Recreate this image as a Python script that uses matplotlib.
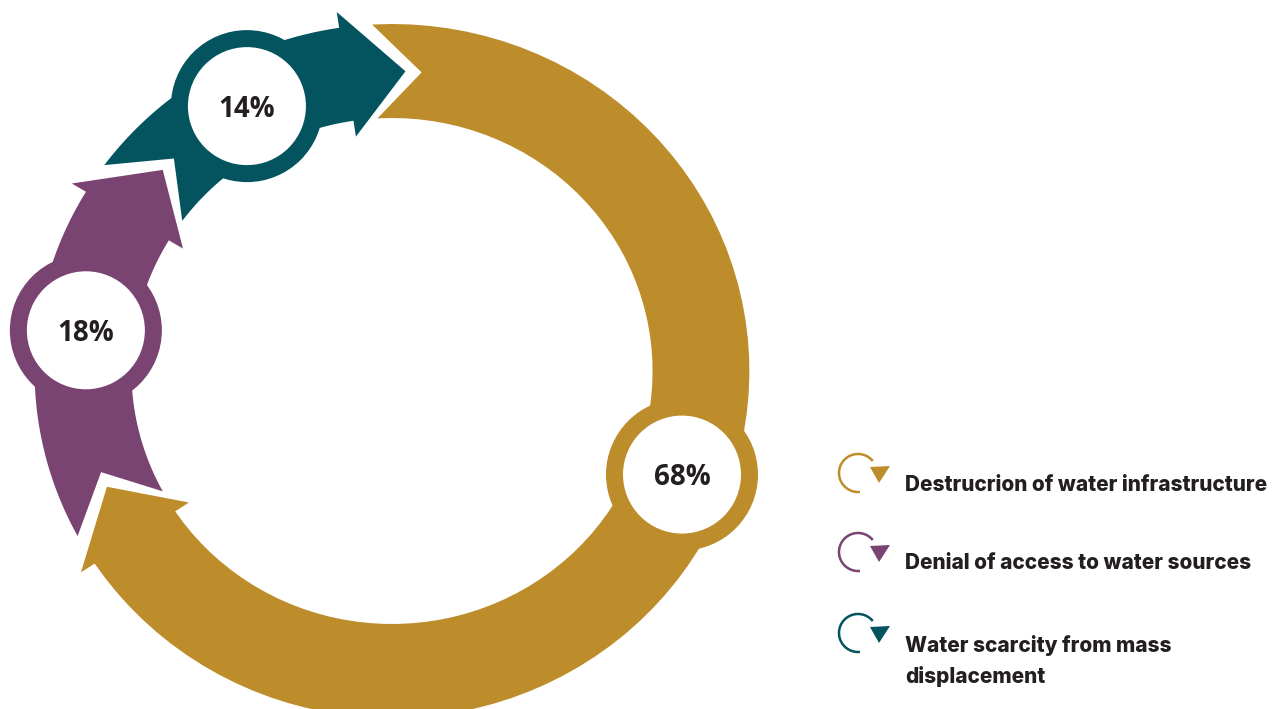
import numpy as np
import matplotlib.pyplot as plt
from matplotlib.patches import Polygon, Circle

# data
labels = ["Destrucrion of water infrastructure",
          "Denial of access to water sources",
          "Water scarcity from mass\ndisplacement"]
shares = [68, 18, 14]
colors = ["#BC8D2A", "#794471", "#03545F"]

# ring layout (pixel coords of the 1286x709 canvas)
W, H = 1286, 709
CX, CY = 392, 371
SX = 1.03           # ring is a little wider than tall
R_OUT, R_IN = 347, 253
R_MID = (R_OUT + R_IN) / 2
START = 86          # angle where the first segment starts (deg, math)
GAP = 1.5           # half gap between segments (deg)
NOTCH = 8.7         # depth of the tail notch (deg)
HEAD = 11           # arrow head length (deg)
BARB = 16           # barb overhang (px)
badge_angles = [-20.2, 172.2, 118]
BADGE_R, BADGE_WHITE = 76, 59


def pt(r, a):
    t = np.radians(a)
    return CX + SX * r * np.cos(t), CY - r * np.sin(t)


def arc(r, a0, a1, n=80):
    return [pt(r, a) for a in np.linspace(a0, a1, n)]


def arrowShape(a_start, a_end):
    """
    带缺口尾部和箭头的环形箭头 (顺时针)
    """
    tip = a_end + GAP
    apex = a_start - GAP
    tail = apex + NOTCH
    base = tip + HEAD
    pts = arc(R_OUT, tail, base)
    pts += [pt(R_OUT + BARB, base), pt(R_MID, tip), pt(R_IN - BARB, base)]
    pts += arc(R_IN, base, tail)
    pts += [pt(R_MID, apex)]
    return pts


fig = plt.figure(figsize=(W / 100, H / 100), dpi=100)
ax = fig.add_axes([0, 0, 1, 1])
ax.set_xlim(0, W)
ax.set_ylim(H, 0)
ax.axis("off")

a = START
for share, col, ba in zip(shares, colors, badge_angles):
    span = share / 100 * 360
    ax.add_patch(Polygon(arrowShape(a, a - span), closed=True, fc=col, ec="none", zorder=2))
    bx, by = pt(R_MID, ba)
    ax.add_patch(Circle((bx, by), BADGE_R, fc=col, ec="none", zorder=3))
    ax.add_patch(Circle((bx, by), BADGE_WHITE, fc="white", ec="none", zorder=4))
    ax.text(bx, by + 3, f"{share}%", ha="center", va="center", fontsize=20,
            family="Open Sans", weight="bold", color="#231F20", zorder=5)
    a -= span

# legend
leg_y = [485, 563, 661]
icon_y = [473, 552, 633]
for lab, col, ty, iy in zip(labels, colors, leg_y, icon_y):
    ix = 858
    r = 19
    th = np.radians(np.linspace(84, 321, 100))
    ax.plot(ix + r * np.cos(th), iy + r * np.sin(th), color=col, lw=1.8,
            solid_capstyle="butt", zorder=3)
    ax.add_patch(Polygon([(870, iy - 6), (890, iy - 7), (879, iy + 10)],
                         closed=True, fc=col, ec="none", zorder=3))
    ax.text(905, ty, lab, ha="left", va="center", fontsize=15, family="Inter",
            weight="heavy", color="#231F20", linespacing=1.55)

fig.savefig("out.png", dpi=100, facecolor="white")
